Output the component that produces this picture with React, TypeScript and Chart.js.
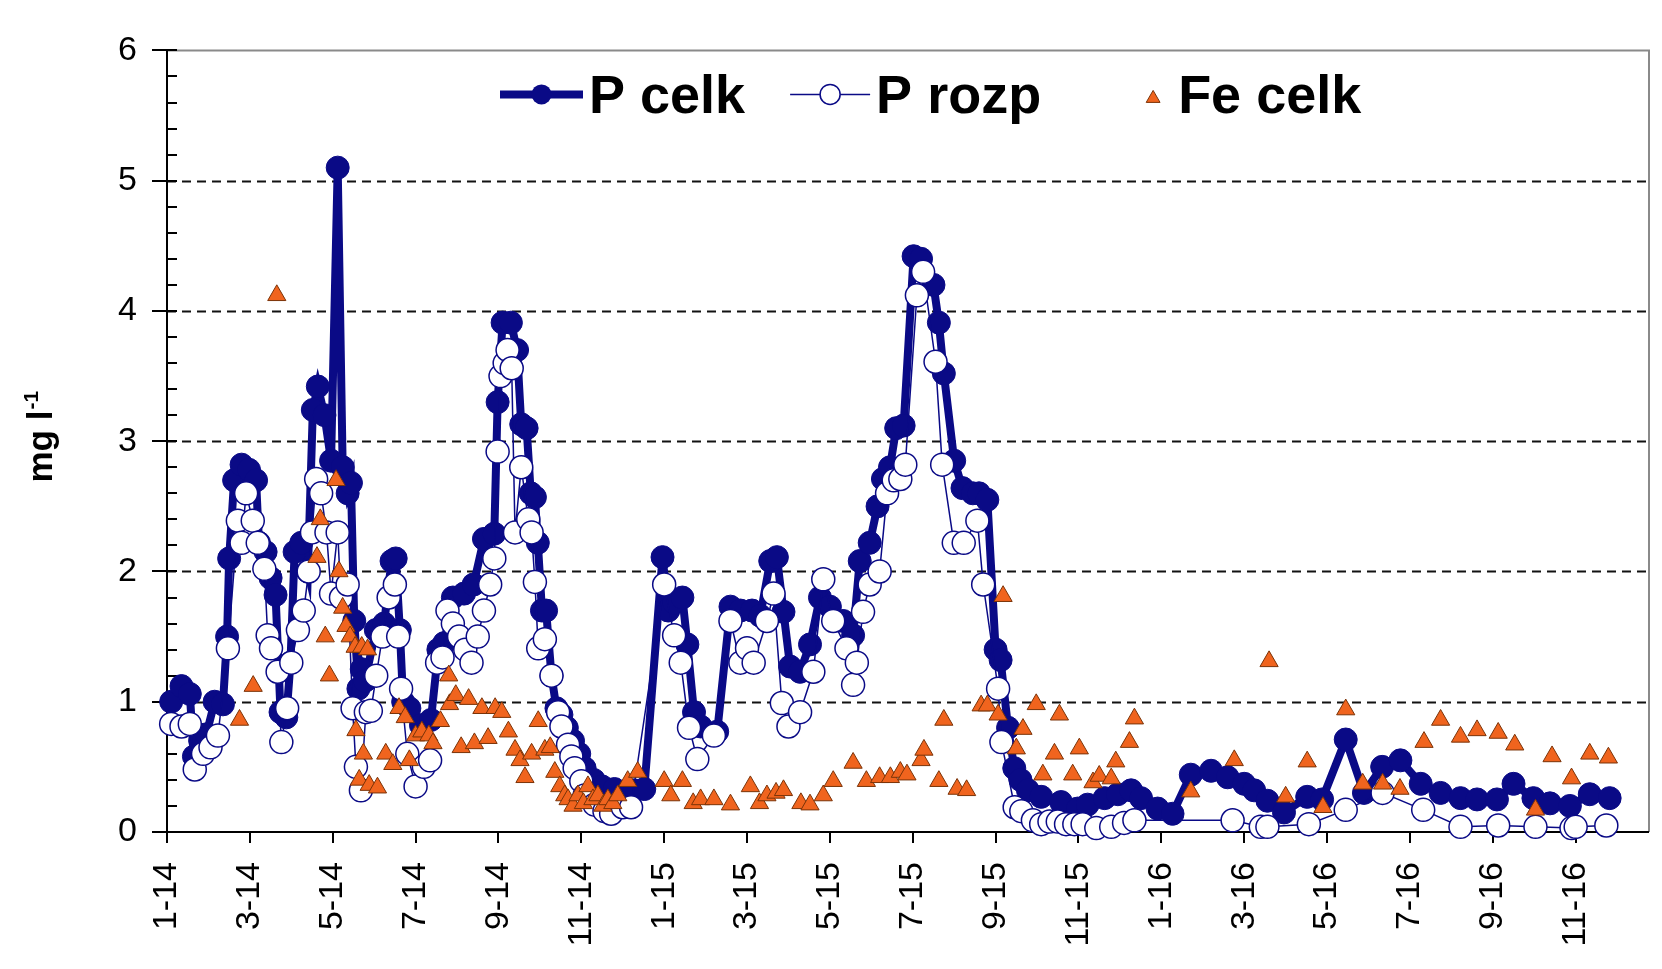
import React, { useEffect, useRef } from 'react';
import { Chart, registerables } from 'chart.js';

Chart.register(...registerables);

const FONT = "'Liberation Sans', Arial, Helvetica, sans-serif";
const NAVY = '#0a0a86';
const ORANGE = '#f0641e';
const ORANGE_EDGE = '#7a3308';

// x axis: months since January 2014
const X_MAX = 35.77;
const tickMonths = [0, 2, 4, 6, 8, 10, 12, 14, 16, 18, 20, 22, 24, 26, 28, 30, 32, 34];
const tickLabels = ['1-14', '3-14', '5-14', '7-14', '9-14', '11-14', '1-15', '3-15', '5-15', '7-15', '9-15', '11-15', '1-16', '3-16', '5-16', '7-16', '9-16', '11-16'];
const yTicks = [0, 1, 2, 3, 4, 5, 6];
const yGrid = [1, 2, 3, 4, 5];

const pCelkMonth = [0.1, 0.35, 0.55, 0.65, 0.8, 0.95, 1.15, 1.35, 1.45, 1.5, 1.62, 1.8, 1.98, 2.15, 2.22, 2.38, 2.5, 2.62, 2.74, 2.88, 2.98, 3.08, 3.24, 3.4, 3.52, 3.64, 3.8, 3.96, 4.12, 4.24, 4.36, 4.44, 4.52, 4.62, 4.7, 4.78, 5.04, 5.24, 5.42, 5.52, 5.62, 5.7, 5.85, 6.13, 6.37, 6.55, 6.69, 6.9, 7.17, 7.4, 7.65, 7.9, 7.98, 8.1, 8.3, 8.45, 8.55, 8.68, 8.78, 8.88, 8.95, 9.05, 9.15, 9.28, 9.4, 9.52, 9.65, 9.8, 9.95, 10.08, 10.3, 10.5, 10.8, 11.28, 11.52, 11.96, 12.1, 12.24, 12.44, 12.56, 12.72, 12.88, 13.28, 13.6, 13.84, 14.12, 14.32, 14.56, 14.72, 14.88, 15.04, 15.28, 15.52, 15.76, 16.0, 16.32, 16.56, 16.72, 16.96, 17.15, 17.28, 17.45, 17.6, 17.78, 18.02, 18.2, 18.5, 18.63, 18.75, 19.0, 19.2, 19.45, 19.6, 19.8, 20.0, 20.12, 20.3, 20.45, 20.6, 20.78, 21.1, 21.58, 21.98, 22.22, 22.63, 22.95, 23.27, 23.51, 23.91, 24.27, 24.71, 25.2, 25.6, 26.0, 26.24, 26.56, 26.96, 27.52, 27.88, 28.45, 28.89, 29.33, 29.77, 30.26, 30.74, 31.22, 31.62, 32.1, 32.5, 32.98, 33.38, 33.86, 34.34, 34.82];
const pCelkValue = [1.0, 1.12, 1.06, 0.58, 0.7, 0.75, 1.0, 0.98, 1.5, 2.1, 2.7, 2.82, 2.78, 2.7, 2.22, 2.15, 1.95, 1.82, 0.92, 0.88, 1.3, 2.15, 2.22, 2.0, 3.24, 3.42, 3.2, 2.85, 5.1, 2.8, 2.6, 2.68, 1.62, 1.1, 1.25, 1.16, 1.55, 1.6, 2.08, 2.1, 1.55, 1.0, 0.95, 0.82, 0.86, 1.4, 1.45, 1.8, 1.83, 1.9, 2.25, 2.29, 3.3, 3.91, 3.91, 3.7, 3.13, 3.1, 2.6, 2.57, 2.22, 1.7, 1.7, 1.2, 0.95, 0.9, 0.8, 0.7, 0.6, 0.49, 0.4, 0.35, 0.33, 0.32, 0.33, 2.11, 1.7, 1.76, 1.8, 1.44, 0.92, 0.81, 0.77, 1.73, 1.7, 1.7, 1.66, 2.08, 2.11, 1.69, 1.27, 1.23, 1.44, 1.8, 1.73, 1.62, 1.51, 2.08, 2.22, 2.5, 2.71, 2.8, 3.1, 3.12, 4.42, 4.4, 4.2, 3.91, 3.52, 2.85, 2.64, 2.6, 2.6, 2.55, 1.4, 1.32, 0.8, 0.49, 0.4, 0.32, 0.27, 0.23, 0.18, 0.21, 0.26, 0.29, 0.32, 0.26, 0.18, 0.14, 0.44, 0.47, 0.42, 0.37, 0.32, 0.24, 0.15, 0.27, 0.25, 0.71, 0.3, 0.5, 0.55, 0.37, 0.3, 0.26, 0.25, 0.25, 0.37, 0.26, 0.22, 0.2, 0.29, 0.26];

const pRozpMonth = [0.1, 0.35, 0.55, 0.67, 0.87, 1.05, 1.23, 1.47, 1.71, 1.8, 1.91, 2.07, 2.19, 2.35, 2.43, 2.51, 2.67, 2.76, 2.9, 3.0, 3.16, 3.3, 3.42, 3.5, 3.6, 3.72, 3.85, 3.96, 4.12, 4.2, 4.36, 4.48, 4.56, 4.68, 4.8, 4.92, 5.05, 5.2, 5.35, 5.5, 5.58, 5.65, 5.8, 6.0, 6.2, 6.35, 6.52, 6.65, 6.77, 6.9, 7.05, 7.2, 7.35, 7.5, 7.65, 7.8, 7.9, 7.98, 8.05, 8.15, 8.22, 8.32, 8.4, 8.55, 8.72, 8.8, 8.88, 8.96, 9.12, 9.28, 9.44, 9.52, 9.68, 9.76, 9.84, 10.0, 10.08, 10.32, 10.56, 10.72, 11.0, 11.2, 12.0, 12.24, 12.4, 12.6, 12.8, 13.2, 13.6, 13.84, 14.0, 14.16, 14.48, 14.64, 14.84, 15.0, 15.28, 15.6, 15.84, 16.08, 16.4, 16.56, 16.65, 16.8, 16.96, 17.2, 17.38, 17.54, 17.7, 17.82, 18.1, 18.25, 18.55, 18.71, 18.99, 19.23, 19.56, 19.7, 20.06, 20.14, 20.46, 20.62, 20.9, 21.1, 21.3, 21.5, 21.7, 21.9, 22.1, 22.43, 22.79, 23.1, 23.35, 25.72, 26.4, 26.56, 27.56, 28.45, 29.34, 30.32, 31.22, 32.13, 33.03, 33.9, 34.0, 34.74];
const pRozpValue = [0.83, 0.81, 0.83, 0.48, 0.6, 0.65, 0.74, 1.41, 2.39, 2.22, 2.6, 2.39, 2.22, 2.02, 1.51, 1.41, 1.23, 0.69, 0.95, 1.3, 1.55, 1.7, 2.0, 2.3, 2.71, 2.6, 2.3, 1.83, 2.3, 1.8, 1.9, 0.95, 0.5, 0.32, 0.92, 0.93, 1.2, 1.5, 1.8, 1.9, 1.5, 1.1, 0.6, 0.35, 0.5, 0.55, 1.3, 1.34, 1.7, 1.6, 1.5, 1.4, 1.3, 1.5, 1.7, 1.9, 2.1, 2.92, 3.5, 3.6, 3.7, 3.56, 2.3, 2.8, 2.4, 2.3, 1.92, 1.41, 1.48, 1.2, 0.92, 0.81, 0.67, 0.58, 0.49, 0.39, 0.28, 0.21, 0.16, 0.14, 0.19, 0.19, 1.9, 1.51, 1.3, 0.8, 0.56, 0.74, 1.62, 1.3, 1.41, 1.3, 1.62, 1.83, 0.99, 0.81, 0.92, 1.23, 1.94, 1.62, 1.41, 1.13, 1.3, 1.69, 1.9, 2.0, 2.6, 2.7, 2.71, 2.82, 4.12, 4.3, 3.61, 2.82, 2.22, 2.22, 2.39, 1.9, 1.1, 0.69, 0.19, 0.16, 0.09, 0.06, 0.08, 0.08, 0.06, 0.06, 0.06, 0.03, 0.04, 0.07, 0.09, 0.09, 0.04, 0.04, 0.06, 0.17, 0.3, 0.17, 0.04, 0.05, 0.04, 0.03, 0.04, 0.05];

const feCelkMonth = [1.75, 2.08, 2.65, 3.62, 3.7, 3.82, 3.92, 4.08, 4.15, 4.24, 4.32, 4.42, 4.54, 4.56, 4.64, 4.7, 4.74, 4.84, 4.88, 5.08, 5.28, 5.45, 5.6, 5.75, 5.85, 6.0, 6.15, 6.32, 6.42, 6.6, 6.8, 6.82, 6.97, 7.1, 7.28, 7.42, 7.6, 7.75, 7.92, 8.08, 8.24, 8.4, 8.52, 8.64, 8.8, 8.96, 9.12, 9.25, 9.36, 9.48, 9.6, 9.68, 9.8, 9.92, 10.05, 10.16, 10.28, 10.4, 10.52, 10.64, 10.76, 10.88, 11.12, 11.36, 12.0, 12.16, 12.44, 12.7, 12.88, 13.2, 13.6, 14.08, 14.3, 14.48, 14.7, 14.88, 15.3, 15.52, 15.84, 16.08, 16.56, 16.88, 17.2, 17.46, 17.7, 17.86, 18.2, 18.27, 18.63, 18.75, 19.07, 19.3, 19.65, 19.8, 20.06, 20.18, 20.5, 20.66, 20.98, 21.14, 21.42, 21.54, 21.86, 22.02, 22.35, 22.5, 22.79, 22.9, 23.23, 23.35, 24.71, 25.76, 26.6, 27.0, 27.52, 27.9, 28.45, 28.86, 29.34, 29.76, 30.34, 30.74, 31.22, 31.62, 32.13, 32.53, 33.03, 33.43, 33.9, 34.34, 34.79];
const feCelkValue = [0.86, 1.12, 4.12, 2.11, 2.4, 1.5, 1.2, 2.7, 2.0, 1.72, 1.58, 1.5, 1.42, 0.78, 0.4, 1.42, 0.6, 1.4, 0.36, 0.34, 0.6, 0.52, 0.95, 0.88, 0.55, 0.74, 0.77, 0.74, 0.68, 0.85, 1.2, 0.98, 1.05, 0.65, 1.02, 0.68, 0.95, 0.72, 0.95, 0.92, 0.77, 0.63, 0.55, 0.42, 0.6, 0.85, 0.63, 0.65, 0.46, 0.35, 0.28, 0.25, 0.2, 0.28, 0.22, 0.35, 0.25, 0.28, 0.2, 0.25, 0.22, 0.28, 0.39, 0.46, 0.39, 0.28, 0.39, 0.22, 0.25, 0.25, 0.21, 0.35, 0.22, 0.28, 0.3, 0.32, 0.22, 0.21, 0.28, 0.39, 0.53, 0.39, 0.42, 0.42, 0.46, 0.44, 0.55, 0.63, 0.39, 0.86, 0.33, 0.32, 0.97, 0.97, 0.9, 1.81, 0.64, 0.79, 0.98, 0.44, 0.6, 0.9, 0.44, 0.64, 0.38, 0.43, 0.41, 0.54, 0.69, 0.87, 0.31, 0.55, 1.31, 0.27, 0.54, 0.19, 0.94, 0.37, 0.37, 0.33, 0.69, 0.86, 0.73, 0.78, 0.76, 0.67, 0.17, 0.58, 0.41, 0.6, 0.57];

const seriesNames = ['P celk', 'P rozp', 'Fe celk'];

const toPoints = (xs: number[], ys: number[]) => xs.map((x, i) => ({ x, y: ys[i] }));

function drawTriangle(ctx: CanvasRenderingContext2D, x: number, y: number, r: number) {
  ctx.beginPath();
  for (let k = 0; k < 3; k++) {
    const a = (k * 2 * Math.PI) / 3;
    const px = x + Math.sin(a) * r;
    const py = y - Math.cos(a) * r;
    if (k === 0) ctx.moveTo(px, py); else ctx.lineTo(px, py);
  }
  ctx.closePath();
  ctx.fillStyle = ORANGE;
  ctx.fill();
  ctx.strokeStyle = ORANGE_EDGE;
  ctx.lineWidth = 1;
  ctx.stroke();
}

const framePlugin = {
  id: 'frame',
  beforeDatasetsDraw(chart: any) {
    const { ctx, chartArea: a, scales } = chart;
    const xs = scales.x;
    const ys = scales.y;
    ctx.save();
    // dashed grid lines
    ctx.strokeStyle = '#111';
    ctx.lineWidth = 1.8;
    ctx.setLineDash([9, 6]);
    for (const v of yGrid) {
      const py = Math.round(ys.getPixelForValue(v)) + 0.5;
      ctx.beginPath();
      ctx.moveTo(a.left, py);
      ctx.lineTo(a.right, py);
      ctx.stroke();
    }
    ctx.setLineDash([]);
    // top & right border
    ctx.strokeStyle = '#8a8a8a';
    ctx.lineWidth = 2;
    ctx.beginPath();
    ctx.moveTo(a.left, a.top);
    ctx.lineTo(a.right, a.top);
    ctx.lineTo(a.right, a.bottom);
    ctx.stroke();
    // axes
    ctx.strokeStyle = '#000';
    ctx.lineWidth = 2;
    ctx.beginPath();
    ctx.moveTo(a.left, a.top);
    ctx.lineTo(a.left, a.bottom);
    ctx.lineTo(a.right, a.bottom);
    ctx.stroke();
    // y ticks (major crossing, minor inside)
    for (let i = 0; i <= 30; i++) {
      const v = i * 0.2;
      const py = Math.round(ys.getPixelForValue(v));
      const major = i % 5 === 0;
      ctx.beginPath();
      ctx.moveTo(a.left - (major ? 15 : 0), py);
      ctx.lineTo(a.left + 10, py);
      ctx.stroke();
    }
    // x ticks
    for (const m of tickMonths) {
      const px = Math.round(xs.getPixelForValue(m));
      ctx.beginPath();
      ctx.moveTo(px, a.bottom);
      ctx.lineTo(px, a.bottom + 11);
      ctx.stroke();
    }
    ctx.restore();
  },
};

const titlePlugin = {
  id: 'ytitle',
  afterDraw(chart: any) {
    const { ctx, chartArea: a } = chart;
    ctx.save();
    const cy = (a.top + a.bottom) / 2 - 4;
    ctx.translate(52, cy);
    ctx.rotate(-Math.PI / 2);
    ctx.fillStyle = '#000';
    ctx.font = `bold 35px ${FONT}`;
    const main = 'mg l';
    const w1 = ctx.measureText(main).width;
    ctx.font = `bold 21px ${FONT}`;
    const sup = '-1';
    const w2 = ctx.measureText(sup).width;
    const start = -(w1 + w2) / 2;
    ctx.textBaseline = 'alphabetic';
    ctx.textAlign = 'left';
    ctx.font = `bold 35px ${FONT}`;
    ctx.fillText(main, start, 0);
    ctx.font = `bold 21px ${FONT}`;
    ctx.fillText(sup, start + w1 + 1, -14);
    ctx.restore();
  },
};

const legendPlugin = {
  id: 'innerLegend',
  afterDraw(chart: any) {
    const { ctx, chartArea: a } = chart;
    ctx.save();
    const cy = a.top + 64 - 20;
    const base = cy + 19;
    ctx.font = `bold 54px ${FONT}`;
    ctx.fillStyle = '#000';
    ctx.textBaseline = 'alphabetic';
    let x = a.left + 333;
    // P celk
    ctx.strokeStyle = NAVY;
    ctx.lineWidth = 8;
    ctx.beginPath();
    ctx.moveTo(x, cy);
    ctx.lineTo(x + 83, cy);
    ctx.stroke();
    ctx.beginPath();
    ctx.arc(x + 41.5, cy, 10, 0, Math.PI * 2);
    ctx.fillStyle = NAVY;
    ctx.fill();
    x += 89;
    ctx.fillStyle = '#000';
    ctx.fillText(seriesNames[0], x, base);
    x += ctx.measureText(seriesNames[0]).width + 45;
    // P rozp
    ctx.strokeStyle = NAVY;
    ctx.lineWidth = 1.5;
    ctx.beginPath();
    ctx.moveTo(x, cy);
    ctx.lineTo(x + 80, cy);
    ctx.stroke();
    ctx.beginPath();
    ctx.arc(x + 40, cy, 10, 0, Math.PI * 2);
    ctx.fillStyle = '#fff';
    ctx.fill();
    ctx.stroke();
    x += 86;
    ctx.fillStyle = '#000';
    ctx.fillText(seriesNames[1], x, base);
    x += ctx.measureText(seriesNames[1]).width + 112;
    // Fe celk
    drawTriangle(ctx, x, cy + 4, 8);
    x += 25;
    ctx.fillStyle = '#000';
    ctx.fillText(seriesNames[2], x, base);
    ctx.restore();
  },
};

export default function App() {
  const ref = useRef<HTMLCanvasElement>(null);
  useEffect(() => {
    if (!ref.current) return;
    const chart = new Chart(ref.current, {
      type: 'scatter',
      data: {
        datasets: [
          {
            label: seriesNames[0],
            data: toPoints(pCelkMonth, pCelkValue),
            showLine: true,
            borderColor: NAVY,
            borderWidth: 8,
            backgroundColor: NAVY,
            pointRadius: 11.5,
            pointBackgroundColor: NAVY,
            pointBorderColor: NAVY,
            pointBorderWidth: 1,
            tension: 0,
            order: 3,
            clip: false,
          } as any,
          {
            label: seriesNames[1],
            data: toPoints(pRozpMonth, pRozpValue),
            showLine: true,
            borderColor: NAVY,
            borderWidth: 1.5,
            backgroundColor: '#fff',
            pointRadius: 11.5,
            pointBackgroundColor: '#fff',
            pointBorderColor: NAVY,
            pointBorderWidth: 1.5,
            tension: 0,
            order: 2,
            clip: false,
          } as any,
          {
            label: seriesNames[2],
            data: toPoints(feCelkMonth, feCelkValue),
            showLine: false,
            pointStyle: 'triangle',
            pointRadius: 10.5,
            pointBackgroundColor: ORANGE,
            pointBorderColor: ORANGE_EDGE,
            pointBorderWidth: 1,
            backgroundColor: ORANGE,
            borderColor: ORANGE_EDGE,
            order: 1,
            clip: false,
          } as any,
        ],
      },
      options: {
        responsive: false,
        devicePixelRatio: 1,
        animation: false,
        events: [],
        layout: { padding: { top: 29, right: 7, bottom: 0, left: 0 } },
        plugins: {
          legend: { display: false },
          tooltip: { enabled: false },
          title: { display: false },
        },
        scales: {
          x: {
            type: 'linear',
            min: 0,
            max: X_MAX,
            grid: { display: false, drawTicks: false },
            border: { display: false },
            afterBuildTicks: (axis: any) => {
              axis.ticks = tickMonths.map((v) => ({ value: v }));
            },
            afterFit: (axis: any) => {
              axis.height = 137;
            },
            ticks: {
              autoSkip: false,
              minRotation: 90,
              maxRotation: 90,
              padding: 30,
              color: '#000',
              font: { size: 34, family: FONT },
              callback: (value: any) => {
                const i = tickMonths.indexOf(Number(value));
                return i >= 0 ? tickLabels[i] : '';
              },
            },
          },
          y: {
            type: 'linear',
            min: 0,
            max: 6,
            grid: { display: false, drawTicks: false },
            border: { display: false },
            afterBuildTicks: (axis: any) => {
              axis.ticks = yTicks.map((v) => ({ value: v }));
            },
            afterFit: (axis: any) => {
              axis.width = 167;
            },
            ticks: {
              padding: 30,
              color: '#000',
              font: { size: 34, family: FONT },
              callback: (value: any) => String(value),
            },
          },
        },
      } as any,
      plugins: [framePlugin, legendPlugin, titlePlugin],
    });
    return () => chart.destroy();
  }, []);
  return (
    <div style={{ position: 'fixed', left: 0, top: 0, width: 1662, height: 969, background: '#fff' }}>
      <canvas ref={ref} width={1662} height={969} style={{ display: 'block' }} />
    </div>
  );
}
